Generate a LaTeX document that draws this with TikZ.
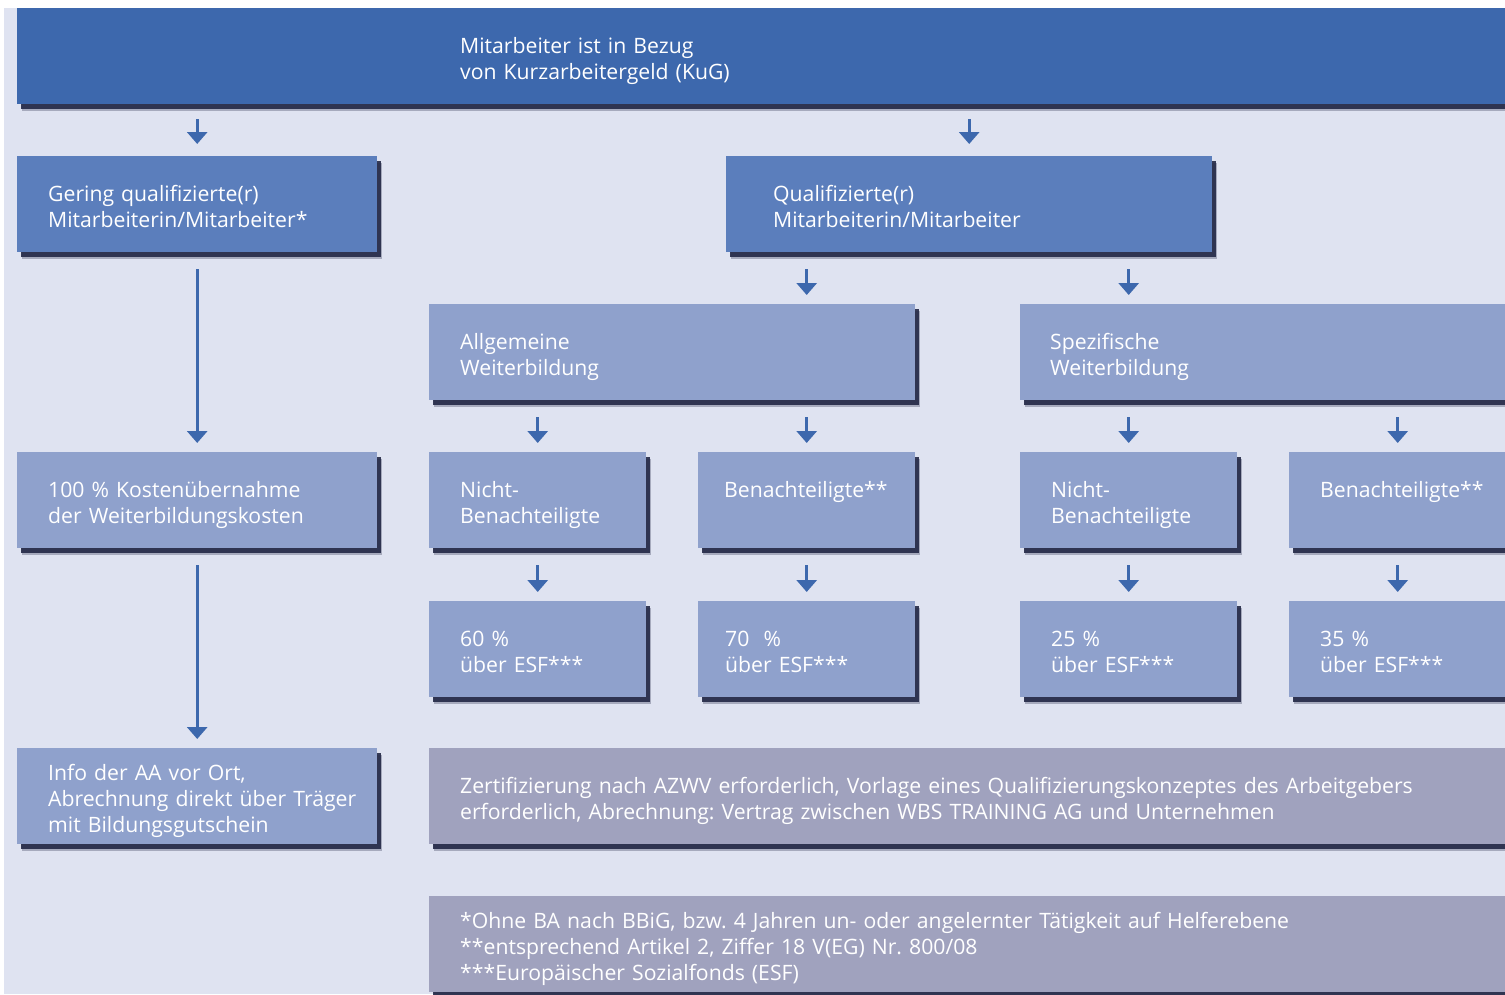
\documentclass[tikz,border=0pt]{standalone}
\usepackage{fontspec}
\setmainfont{Open Sans}
\frenchspacing
\usetikzlibrary{arrows.meta,shadows}
\definecolor{kugdunkel}{HTML}{3D68AD}
\definecolor{kugmittel}{HTML}{5B7EBC}
\definecolor{kughell}{HTML}{8FA1CC}
\definecolor{kuggrau}{HTML}{A0A2BE}
\definecolor{kuggrund}{HTML}{DFE3F1}
\definecolor{kugschatten}{HTML}{232846}
\begin{document}
\begin{tikzpicture}[x=1pt,y=-1pt,
  box/.style={anchor=north west, minimum height=96pt, inner xsep=31pt, inner ysep=0pt,
    text width=#1, align=left, text=white, font=\fontsize{21.2}{26}\selectfont,
    execute at begin node={\rightskip=0pt plus 1fil minus 40pt\rule{0pt}{27pt}},
    execute at end node={\rule[-6.5pt]{0pt}{6.5pt}},
    drop shadow={shadow xshift=5pt, shadow yshift=-7pt, fill=kugschatten, opacity=.3},
    drop shadow={shadow xshift=3.5pt, shadow yshift=-4.5pt, fill=kugschatten, opacity=.9}},
  pfeil/.style={draw=kugdunkel, line width=3pt, -{Triangle[width=20pt,length=12pt]},
    shorten <=17pt, shorten >=9pt}]
\useasboundingbox (0,0) rectangle (1505,994);
\fill[kuggrund] (4,8) rectangle (1505,994);

\node[box=604pt, inner xsep=443pt, fill=kugdunkel] (kug) at (17,8) {Mitarbeiter ist in Bezug\\von Kurzarbeitergeld (KuG)};

\node[box=298pt, fill=kugmittel] (gering) at (17,156) {Gering qualifizierte(r)\\Mitarbeiterin/Mitarbeiter*};
\node[box=392pt, inner xsep=47pt, fill=kugmittel] (quali) at (726,156) {Qualifizierte(r)\\Mitarbeiterin/Mitarbeiter};

\node[box=424pt, fill=kughell] (allg) at (429,304) {Allgemeine\\Weiterbildung};
\node[box=430pt, inner xsep=30pt, fill=kughell] (spez) at (1020,304) {Spezifische\\Weiterbildung};

\node[box=298pt, fill=kughell] (kosten) at (17,452) {100 \% Kostenübernahme\\der Weiterbildungskosten};
\node[box=155pt, fill=kughell] (nichtA) at (429,452) {Nicht-\\Benachteiligte};
\node[box=165pt, inner xsep=26pt, fill=kughell] (benA) at (698,452) {Benachteiligte**\\\mbox{}};
\node[box=155pt, fill=kughell] (nichtS) at (1020,452) {Nicht-\\Benachteiligte};
\node[box=155pt, fill=kughell] (benS) at (1289,452) {Benachteiligte**\\\mbox{}};

\node[box=155pt, fill=kughell] (esfA) at (429,601) {60 \%\\über ESF***};
\node[box=163pt, inner xsep=27pt, fill=kughell] (esfB) at (698,601) {70~~\%\\über ESF***};
\node[box=155pt, fill=kughell] (esfC) at (1020,601) {25 \%\\über ESF***};
\node[box=155pt, fill=kughell] (esfD) at (1289,601) {35 \%\\über ESF***};

\node[box=298pt, fill=kughell] (info) at (17,748) {Info der AA vor Ort,\\Abrechnung direkt über Träger\\mit Bildungsgutschein};
\node[box=1018pt, fill=kuggrau] (zert) at (429,748) {Zertifizierung nach AZWV erforderlich, Vorlage eines Qualifizierungskonzeptes des Arbeitgebers\\erforderlich, Abrechnung: Vertrag zwischen WBS TRAINING AG und Unternehmen};
\node[box=1018pt, fill=kuggrau] (fuss) at (429,896) {*Ohne BA nach BBiG, bzw. 4 Jahren un- oder angelernter Tätigkeit auf Helferebene\\{}**entsprechend Artikel 2, Ziffer 18 V(EG) Nr. 800/08\\{}***Europäischer Sozialfonds (ESF)};

\draw[pfeil, shorten <=15pt, shorten >=12pt] (kug.south -| gering.north) -- (gering.north);
\draw[pfeil, shorten <=15pt, shorten >=12pt] (kug.south -| quali.north) -- (quali.north);
\draw[pfeil] (gering) -- (kosten);
\draw[pfeil] (kosten) -- (info);
\draw[pfeil] (quali.south -| benA.north) -- (benA.north |- allg.north);
\draw[pfeil] (quali.south -| nichtS.north) -- (nichtS.north |- spez.north);
\draw[pfeil] (allg.south -| nichtA.north) -- (nichtA.north);
\draw[pfeil] (allg.south -| benA.north) -- (benA.north);
\draw[pfeil] (spez.south -| nichtS.north) -- (nichtS.north);
\draw[pfeil] (spez.south -| benS.north) -- (benS.north);
\draw[pfeil] (nichtA) -- (esfA);
\draw[pfeil] (benA) -- (esfB);
\draw[pfeil] (nichtS) -- (esfC);
\draw[pfeil] (benS) -- (esfD);
\end{tikzpicture}
\end{document}
